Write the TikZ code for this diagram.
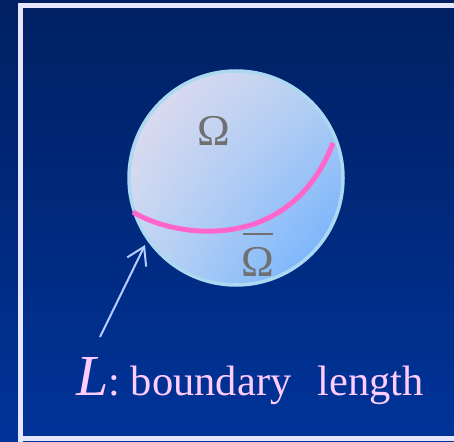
\documentclass[tikz,border=0pt]{standalone}
\usepackage{fontspec}
\setmainfont{Liberation Serif}
\usetikzlibrary{arrows.meta,shadings}
\definecolor{bgtop}{HTML}{002062}
\definecolor{bgbot}{HTML}{003399}
\definecolor{framecol}{HTML}{E6E6FF}
\definecolor{diskrim}{HTML}{ACD8F2}
\definecolor{diskUL}{HTML}{E6DDEE}
\definecolor{diskUR}{HTML}{B4D0F2}
\definecolor{diskLL}{HTML}{C0D6F2}
\definecolor{diskLR}{HTML}{66ACFF}
\definecolor{arccol}{HTML}{FF66CC}
\definecolor{omegacol}{HTML}{707070}
\definecolor{labelcol}{HTML}{FFCCFF}
\definecolor{arrowcol}{HTML}{B8CCFF}
\tikzset{
  omegalabel/.style={text=omegacol, font=\fontsize{44}{44}\selectfont, inner sep=0pt},
  lengthlabel/.style={anchor=base west, inner sep=0pt, font=\fontsize{42.5}{42.5}\selectfont},
  pointer/.style={draw=arrowcol, line width=2pt, -{Straight Barb[length=17pt,width=21pt,line width=2pt]}},
}
\begin{document}
\begin{tikzpicture}[x=1pt,y=-1pt]
\useasboundingbox (0,0) rectangle (454,441);
% background
\shade[top color=bgtop, bottom color=bgbot] (0,0) rectangle (454,441);
% frame
\draw[framecol, line width=5pt] (20.5,460) -- (20.5,5.5) -- (470,5.5);
\draw[framecol, line width=5pt] (20.5,438.5) -- (470,438.5);
% disk
\node[circle, minimum size=214pt, inner sep=0pt, draw=diskrim, line width=3.5pt,
  path picture={\shade[upper left=diskUL, upper right=diskUR,
    lower left=diskLL, lower right=diskLR]
    (path picture bounding box.north west) rectangle (path picture bounding box.south east);}]
  (disk) at (236,178) {};
\node[omegalabel, anchor=base] (om) at (214,145) {Ω};
\node[omegalabel, anchor=base] (ombar) at (258,276) {Ω};
\draw[omegacol, line width=2.5pt] (243,234) -- (273,234);
% boundary arc
\coordinate (arcL) at (133,212);
\coordinate (arcR) at (333,143);
\draw[arccol, line width=5pt] (arcL) .. controls (175,238) and (290,255) .. (arcR);
% pointer
\coordinate (tail) at (100,337);
\coordinate (tip) at (145,245);
\draw[pointer] (tail) -- (tip);
% label
\node[lengthlabel, text=labelcol] (lbl) at (76,395) {{\fontsize{58}{58}\selectfont\itshape L}: boundary\hspace{0.62em}length};
\end{tikzpicture}
\end{document}
